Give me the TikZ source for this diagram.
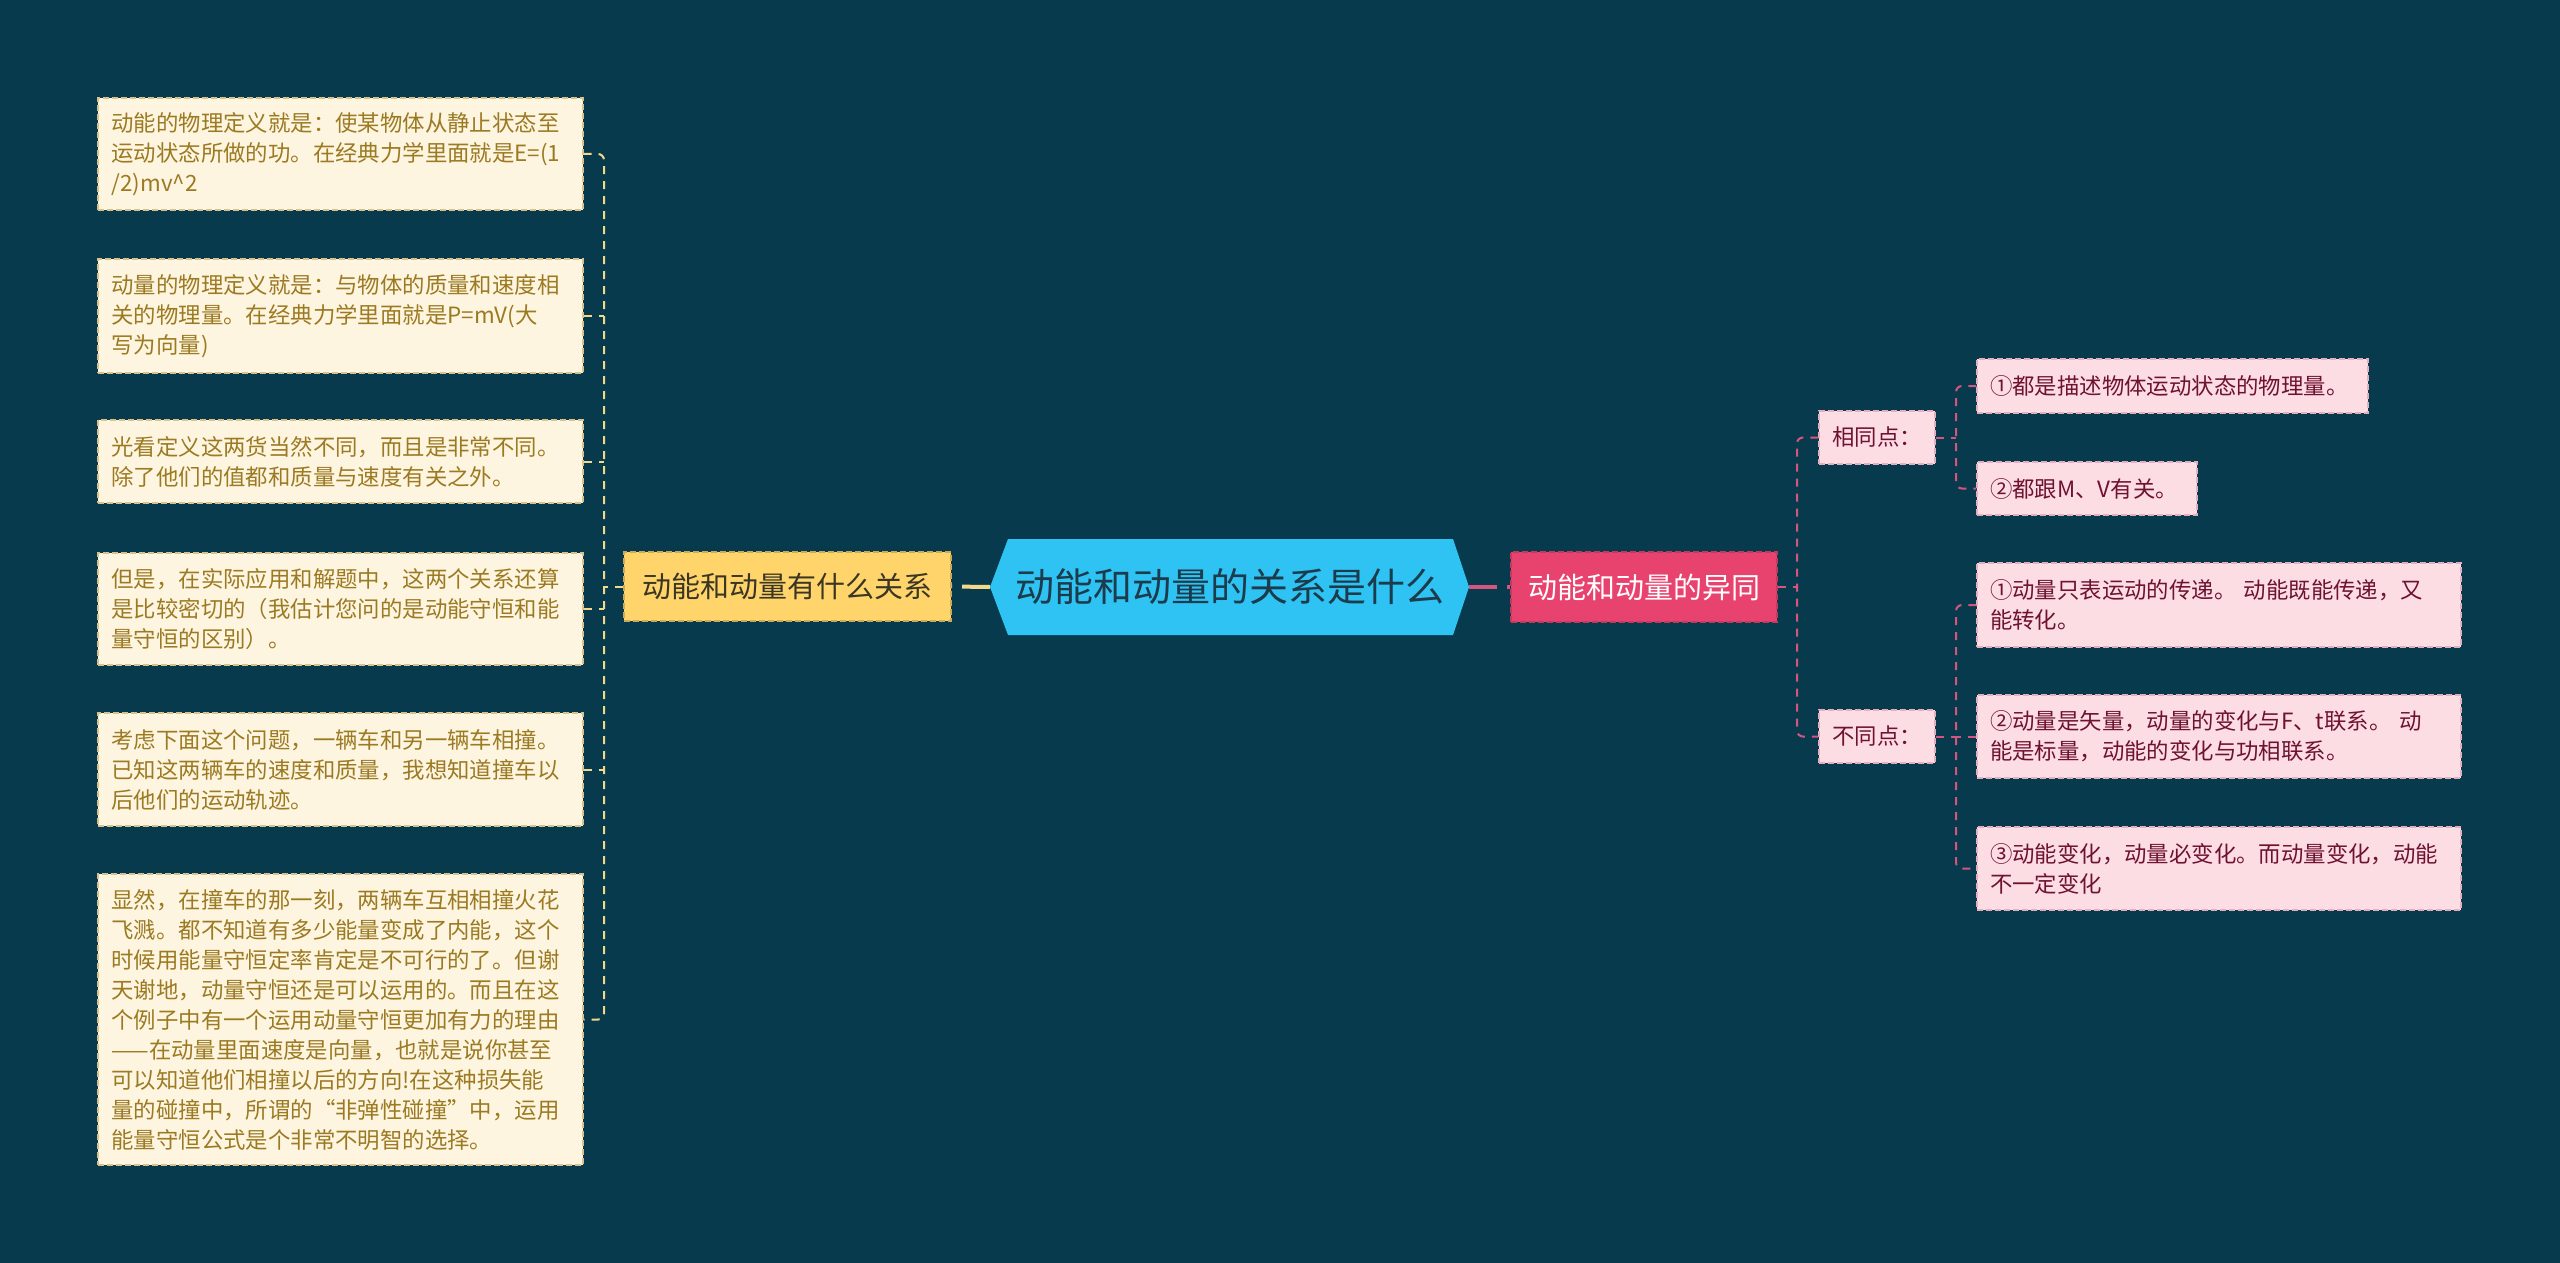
\documentclass[tikz,border=0pt]{standalone}
\usepackage{fontspec}
\setmainfont{Noto Sans CJK SC}
\usetikzlibrary{calc}
\definecolor{bg}{HTML}{073A4D}
\definecolor{lfill}{HTML}{FDF5E0}
\definecolor{ltext}{HTML}{9C7A22}
\definecolor{lborder}{HTML}{D8C18A}
\definecolor{rfill}{HTML}{FDDDE4}
\definecolor{rtext}{HTML}{6E1230}
\definecolor{rborder}{HTML}{E3AFBE}
\definecolor{ylw}{HTML}{FFD56B}
\definecolor{ylwline}{HTML}{F3D88A}
\definecolor{cyanc}{HTML}{2EC3F2}
\definecolor{pinkc}{HTML}{E8436E}
\definecolor{pinkline}{HTML}{D4557E}
\definecolor{ctext}{HTML}{1C3B4C}
\definecolor{ytext}{HTML}{3B3524}
\tikzset{
  lbox/.style={draw=lborder, dashed, dash pattern=on 3pt off 1.5pt, line width=0.6pt, fill=lfill, text=ltext,
    font=\fontsize{11.2pt}{15pt}\selectfont, align=left, text width=229pt, inner xsep=6.5pt, inner ysep=0pt,
    minimum width=242.5pt, anchor=center},
  rbox/.style={draw=rborder, dashed, dash pattern=on 3pt off 1.5pt, line width=0.6pt, fill=rfill, text=rtext,
    font=\fontsize{11.2pt}{15pt}\selectfont, align=left, inner xsep=6.5pt, inner ysep=0pt, anchor=center},
  ythin/.style={draw=ylwline, line width=1pt, dash pattern=on 4pt off 3.5pt},
  pthin/.style={draw=pinkline, line width=1pt, dash pattern=on 4pt off 3.5pt},
  ythick/.style={draw=ylwline, line width=2pt, dash pattern=on 14pt off 5pt},
  pthick/.style={draw=pinkline, line width=2pt, dash pattern=on 14pt off 5pt},
}
\begin{document}
\begin{tikzpicture}[x=0.5pt,y=-0.5pt]
\fill[bg] (0,0) rectangle (2560,1263);
\useasboundingbox (0,0) rectangle (2560,1263);

% central hexagon
\fill[cyanc] (990,587) -- (1008,539) -- (1453,539) -- (1469,587) -- (1453,635) -- (1008,635) -- cycle;
\node[text=ctext, font=\fontsize{19.5pt}{22pt}\selectfont, minimum width=239.5pt, minimum height=48pt, inner sep=0pt] (c) at (1229.5,587) {动能和动量的关系是什么};

% main branches
\node[draw=ylw!80!black, dashed, dash pattern=on 3pt off 1.5pt, line width=0.6pt, fill=ylw, text=ytext, font=\fontsize{14.5pt}{17pt}\selectfont,
  minimum width=163.5pt, minimum height=34.5pt, inner sep=0pt] (y) at (787.5,586.5) {动能和动量有什么关系};
\node[draw=pinkc!85!black, dashed, dash pattern=on 3pt off 1.5pt, line width=0.6pt, fill=pinkc, text=white, font=\fontsize{14.5pt}{17pt}\selectfont,
  minimum width=133pt, minimum height=35pt, inner sep=0pt] (p) at (1644,587) {动能和动量的异同};

% left boxes
\node[lbox, minimum height=56pt] (b1) at (340.5,154) {动能的物理定义就是：使某物体从静止状态至\\运动状态所做的功。在经典力学里面就是E=(1\\/2)mv\^{}2};
\node[lbox, minimum height=57pt] (b2) at (340.5,316) {动量的物理定义就是：与物体的质量和速度相\\关的物理量。在经典力学里面就是P=mV(大\\写为向量)};
\node[lbox, minimum height=41.5pt] (b3) at (340.5,461.5) {光看定义这两货当然不同，而且是非常不同。\\除了他们的值都和质量与速度有关之外。};
\node[lbox, minimum height=56pt] (b4) at (340.5,609) {但是，在实际应用和解题中，这两个关系还算\\是比较密切的（我估计您问的是动能守恒和能\\量守恒的区别）。};
\node[lbox, minimum height=56.5pt] (b5) at (340.5,769.5) {考虑下面这个问题，一辆车和另一辆车相撞。\\已知这两辆车的速度和质量，我想知道撞车以\\后他们的运动轨迹。};
\node[lbox, minimum height=145.5pt] (b6) at (340.5,1019.5) {显然，在撞车的那一刻，两辆车互相相撞火花\\飞溅。都不知道有多少能量变成了内能，这个\\时候用能量守恒定率肯定是不可行的了。但谢\\天谢地，动量守恒还是可以运用的。而且在这\\个例子中有一个运用动量守恒更加有力的理由\\——在动量里面速度是向量，也就是说你甚至\\可以知道他们相撞以后的方向!在这种损失能\\量的碰撞中，所谓的“非弹性碰撞”中，运用\\能量守恒公式是个非常不明智的选择。};

% right side
\node[rbox, minimum width=58pt, minimum height=26.5pt] (s) at (1877,437.5) {相同点：};
\node[rbox, minimum width=58pt, minimum height=26.5pt] (d) at (1877,736.5) {不同点：};
\node[rbox, minimum width=195.5pt, minimum height=27pt, text width=182.5pt] (s1) at (2172.5,386) {①都是描述物体运动状态的物理量。};
\node[rbox, minimum width=110pt, minimum height=26.5pt, text width=97pt] (s2) at (2087,488.5) {②都跟M、V有关。};
\node[rbox, minimum width=242pt, minimum height=42pt, text width=229pt] (d1) at (2219,605) {①动量只表运动的传递。 动能既能传递，又\\能转化。};
\node[rbox, minimum width=242pt, minimum height=41.5pt, text width=229pt] (d2) at (2219,736.5) {②动量是矢量，动量的变化与F、t联系。 动\\能是标量，动能的变化与功相联系。};
\node[rbox, minimum width=242pt, minimum height=41.5pt, text width=229pt] (d3) at (2219,868.5) {③动能变化，动量必变化。而动量变化，动能\\不一定变化};

% connectors
\coordinate (lt) at (604,0);
\coordinate (rt1) at (1797,0);
\coordinate (rt2) at (1956,0);

\draw[ythick] (c.west -| 990,0) -- (y.east);
\draw[pthick] (c.east -| 1469,0) -- (p.west);

\draw[ythin, rounded corners=3pt] (b1.east) -| (b6.east -| lt) -- (b6.east);
\foreach \b in {b2,b3,b4,b5} \draw[ythin] (\b.east) -- (\b.east -| lt);
\draw[ythin] (y.west) -- (y.west -| lt);

\draw[pthin] (p.east) -- (p.east -| rt1);
\draw[pthin, rounded corners=3pt] (s.west) -| (d.west -| rt1) -- (d.west);

\draw[pthin] (s.east) -- (s.east -| rt2);
\draw[pthin, rounded corners=3pt] (s1.west) -| (s2.west -| rt2) -- (s2.west);

\draw[pthin] (d.east) -- (d.east -| rt2);
\draw[pthin, rounded corners=3pt] (d1.west) -| (d3.west -| rt2) -- (d3.west);
\draw[pthin] (d2.west) -- (d2.west -| rt2);
\end{tikzpicture}
\end{document}
